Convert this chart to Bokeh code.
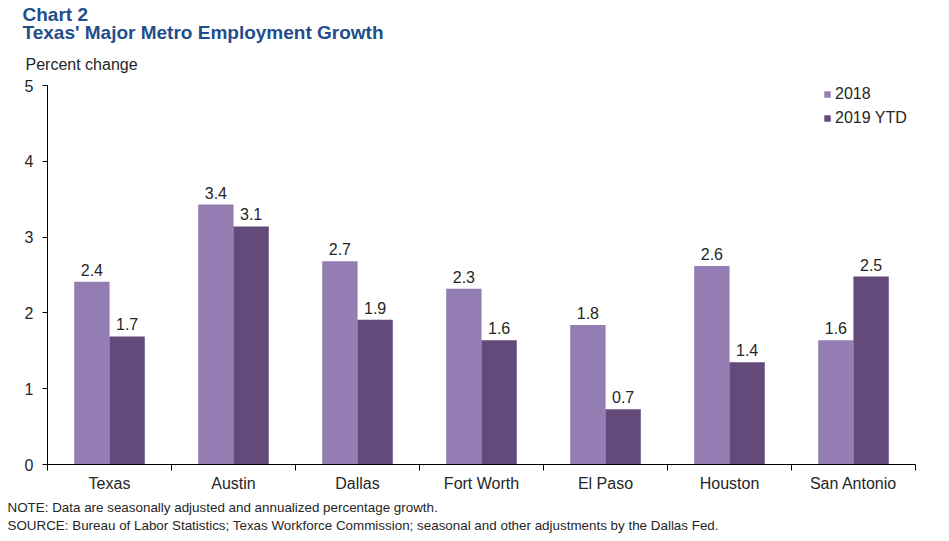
import numpy as np
from bokeh.plotting import figure
from bokeh.models import (Range1d, FixedTicker, Title, Legend, LegendItem, ColumnDataSource)
from bokeh.core.properties import value
from bokeh.embed import file_html
from bokeh.resources import INLINE

categories = ["Texas", "Austin", "Dallas", "Fort Worth", "El Paso", "Houston", "San Antonio"]
growth_2018 = [2.41, 3.43, 2.68, 2.32, 1.84, 2.62, 1.64]
growth_2019 = [1.69, 3.14, 1.91, 1.64, 0.73, 1.35, 2.48]
labels_2018 = ["2.4", "3.4", "2.7", "2.3", "1.8", "2.6", "1.6"]
labels_2019 = ["1.7", "3.1", "1.9", "1.6", "0.7", "1.4", "2.5"]
y_ticks = [0, 1, 2, 3, 4, 5]

FONT = "Liberation Sans"
C18 = "#937db3"
C19 = "#634a7a"
BLUE = "#1f4e8c"
TXT = "#262626"

n = len(categories)
centers = np.arange(n) + 0.5
off = 0.142
bw = 0.285

p = figure(width=933, height=533, output_backend="svg", toolbar_location=None,
           x_range=Range1d(0, n), y_range=Range1d(0, 5),
           min_border_left=47, min_border_right=18, min_border_top=85, min_border_bottom=69)
p.outline_line_color = None
p.xgrid.visible = False
p.ygrid.visible = False

s18 = ColumnDataSource(dict(x=centers - off, top=growth_2018, lab=labels_2018))
s19 = ColumnDataSource(dict(x=centers + off, top=growth_2019, lab=labels_2019))
r18 = p.vbar(x="x", top="top", width=bw, source=s18, fill_color=C18, line_color=None)
r19 = p.vbar(x="x", top="top", width=bw, source=s19, fill_color=C19, line_color=None)

for s in (s18, s19):
    p.text(x="x", y="top", text="lab", source=s, text_align="center", text_baseline="bottom",
           y_offset=-6, text_font=value(FONT), text_font_size="16px", text_color=TXT)

# axes
xa = p.xaxis[0]
xa.ticker = FixedTicker(ticks=list(centers), minor_ticks=list(range(n + 1)))
xa.major_label_overrides = {float(c): cat for c, cat in zip(centers, categories)}
xa.major_tick_out = 0
xa.major_tick_in = 0
xa.minor_tick_out = 6
xa.minor_tick_in = 0
xa.axis_line_color = "black"
xa.minor_tick_line_color = "black"
xa.major_label_text_font = FONT
xa.major_label_text_font_size = "16px"
xa.major_label_text_color = TXT
xa.major_label_standoff = 4

ya = p.yaxis[0]
ya.ticker = FixedTicker(ticks=y_ticks)
ya.major_tick_out = 5
ya.major_tick_in = 0
ya.minor_tick_line_color = None
ya.axis_line_color = "black"
ya.major_tick_line_color = "black"
ya.major_label_text_font = FONT
ya.major_label_text_font_size = "16px"
ya.major_label_text_color = TXT
ya.major_label_standoff = 9

legend = Legend(items=[LegendItem(label="2018", renderers=[r18]),
                       LegendItem(label="2019 YTD", renderers=[r19])],
                location=(776, 337), glyph_width=8, glyph_height=8,
                label_text_font=FONT, label_text_font_size="16px", label_text_color=TXT,
                label_height=18, spacing=6, padding=0, margin=0, border_line_color=None,
                background_fill_alpha=0, label_standoff=4)
p.add_layout(legend, "center")

# titles (first added is closest to plot)
p.add_layout(Title(text="Percent change", align="left", offset=-22, text_font=FONT,
                   text_font_size="16px", text_font_style="normal", text_color=TXT, standoff=26), "above")
p.add_layout(Title(text="Texas' Major Metro Employment Growth", align="left", offset=-25, text_font=FONT,
                   text_font_size="19px", text_font_style="bold", text_color=BLUE, standoff=-5), "above")
p.add_layout(Title(text="Chart 2", align="left", offset=-25, text_font=FONT,
                   text_font_size="19px", text_font_style="bold", text_color=BLUE, standoff=-4), "above")

p.add_layout(Title(text="NOTE: Data are seasonally adjusted and annualized percentage growth.",
                   align="left", offset=-40, text_font=FONT, text_font_size="13.4px",
                   text_font_style="normal", text_color=TXT, standoff=6), "below")
p.add_layout(Title(text="SOURCE: Bureau of Labor Statistics; Texas Workforce Commission; seasonal and other adjustments by the Dallas Fed.",
                   align="left", offset=-40, text_font=FONT, text_font_size="13.4px",
                   text_font_style="normal", text_color=TXT, standoff=-4), "below")

open("out.html", "w").write(file_html(p, INLINE))
